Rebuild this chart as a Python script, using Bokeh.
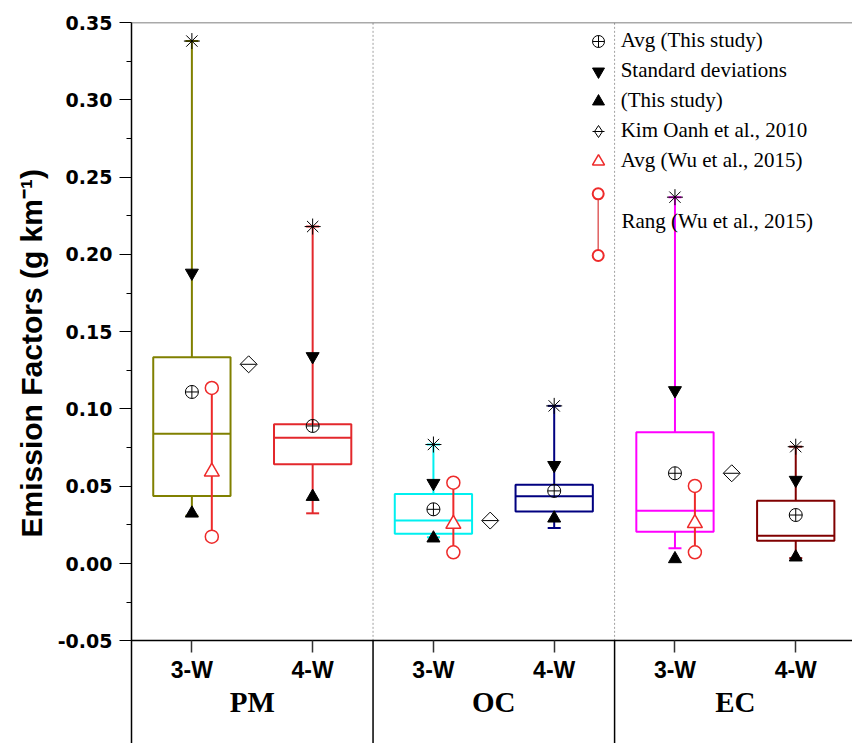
from bokeh.plotting import figure
from bokeh.models import (Range1d, FixedTicker, PrintfTickFormatter, LinearAxis,
                          Legend, LegendItem, Label, Span, Title, ColumnDataSource)
from bokeh.embed import file_html
from bokeh.resources import INLINE

# ---------------- data ----------------
groups = ["PM", "OC", "EC"]
vehicles = ["3-W", "4-W"]
box_colors = ["#808000", "#e3282c", "#00f0f0", "#000080", "#ff00ff", "#800000"]

ef_max = [0.338, 0.218, 0.077, 0.102, 0.237, 0.0756]
ef_sd_hi = [0.188, 0.134, 0.052, 0.0636, 0.112, 0.054]
ef_q3 = [0.1334, 0.0901, 0.0450, 0.0510, 0.0849, 0.0407]
ef_median = [0.0840, 0.0814, 0.0278, 0.0435, 0.0342, 0.0180]
ef_q1 = [0.0437, 0.0642, 0.0193, 0.0336, 0.0206, 0.0148]
ef_mean = [0.1110, 0.0890, 0.0351, 0.0470, 0.0584, 0.0314]
ef_sd_lo = [0.0325, 0.0433, 0.0164, 0.0293, 0.0030, 0.0041]
ef_min = [0.031, 0.0325, 0.017, 0.0230, 0.0099, 0.0035]

# literature values (3-W only, one per group)
kim_oanh_2010 = [0.1289, 0.0278, 0.0584]
wu_avg = [0.0594, 0.0256, 0.0261]
wu_hi = [0.1136, 0.0523, 0.0502]
wu_lo = [0.0174, 0.0073, 0.0073]

y_ticks = [-0.05, 0.0, 0.05, 0.10, 0.15, 0.20, 0.25, 0.30, 0.35]
y_minor = [-0.025, 0.025, 0.075, 0.125, 0.175, 0.225, 0.275, 0.325]

# ---------------- layout helpers ----------------
n = len(groups) * len(vehicles)
xs = [i + 1 for i in range(n)]
tick_labels = {x: vehicles[i % 2] for i, x in enumerate(xs)}
group_centers = [1.5 + 2 * g for g in range(len(groups))]
group_labels = {c: groups[g] for g, c in enumerate(group_centers)}
sep_x = [2.5 + 2 * g for g in range(len(groups) - 1)]
x3w = [xs[2 * g] for g in range(len(groups))]

HALF = 0.32
WU_OFF = 0.165
KIM_OFF = 0.47
Y_AXIS = -0.05
Y_BOTTOM = -0.1164

src = ColumnDataSource(dict(
    x=xs, color=box_colors,
    mx=ef_max, sdh=ef_sd_hi, q3=ef_q3, med=ef_median, q1=ef_q1,
    mean=ef_mean, sdl=ef_sd_lo, mn=ef_min,
    left=[x - HALF for x in xs], right=[x + HALF for x in xs],
))
lit = ColumnDataSource(dict(
    xk=[x + KIM_OFF for x in x3w], kim=kim_oanh_2010,
    xw=[x + WU_OFF for x in x3w], wavg=wu_avg, whi=wu_hi, wlo=wu_lo,
))

FW, FH = 721, 721
p = figure(width=852, height=743, output_backend="svg", toolbar_location=None,
           x_range=Range1d(0.5, 6.47), y_range=Range1d(Y_BOTTOM, 0.35),
           min_border_left=131, min_border_top=22, min_border_right=0,
           min_border_bottom=0)
p.extra_x_ranges = {"px": Range1d(0, FW)}
p.extra_y_ranges = {"px": Range1d(0, FH)}
p.grid.visible = False
p.outline_line_color = None
p.background_fill_color = "white"

# x axis at y=-0.05
xa = p.xaxis[0]
xa.fixed_location = Y_AXIS
xa.ticker = FixedTicker(ticks=xs, minor_ticks=[])
xa.major_label_overrides = tick_labels
xa.axis_line_color = "black"
xa.axis_line_width = 1.5
xa.major_tick_out = 12
xa.major_tick_in = 0
xa.major_tick_line_color = "#333333"
xa.major_tick_line_width = 1.5
xa.major_label_standoff = 4
xa.major_label_text_font = "Liberation Sans"
xa.major_label_text_font_style = "bold"
xa.major_label_text_font_size = "23px"
xa.major_label_text_color = "black"

ga = LinearAxis(ticker=FixedTicker(ticks=group_centers, minor_ticks=[]),
                major_label_overrides=group_labels, fixed_location=Y_AXIS,
                axis_line_color=None, major_tick_line_color=None,
                minor_tick_line_color=None, major_tick_out=0, major_tick_in=0,
                major_label_standoff=45, major_label_text_font="Liberation Serif",
                major_label_text_font_style="bold", major_label_text_font_size="29px",
                major_label_text_color="black")
p.add_layout(ga, "below")

ya = p.yaxis[0]
ya.ticker = FixedTicker(ticks=y_ticks, minor_ticks=y_minor)
ya.formatter = PrintfTickFormatter(format="%.2f")
ya.axis_line_color = "black"
ya.axis_line_width = 1.5
ya.major_tick_out = 12
ya.major_tick_in = 0
ya.minor_tick_out = 5
ya.minor_tick_in = 0
ya.major_tick_line_color = "black"
ya.minor_tick_line_color = "black"
ya.major_label_standoff = 7
ya.major_label_text_font = "DejaVu Sans"
ya.major_label_text_font_style = "bold"
ya.major_label_text_font_size = "19px"
ya.major_label_text_color = "black"

# y-axis title as a side title, anchored from the frame bottom
p.add_layout(Title(text="Emission Factors (g km\u207b\u00b9)", align="left", offset=206,
                   standoff=14, text_font="Liberation Sans", text_font_style="bold",
                   text_font_size="30px", text_color="black"), "left")

# top border and separators
p.add_layout(Span(location=0.35, dimension="width", line_color="#555555", line_width=1.5))
p.segment(x0=sep_x, y0=[Y_AXIS] * len(sep_x), x1=sep_x, y1=[0.35] * len(sep_x),
          line_color="#a0a0a0", line_width=1, line_dash="2 2")
p.segment(x0=sep_x, y0=[Y_AXIS] * len(sep_x), x1=sep_x, y1=[Y_BOTTOM] * len(sep_x),
          line_color="black", line_width=1.5)

# whiskers
p.segment(x0="x", y0="q3", x1="x", y1="mx", line_color="color", line_width=2, source=src)
p.segment(x0="x", y0="mn", x1="x", y1="q1", line_color="color", line_width=2, source=src)
p.scatter(x="x", y="mx", marker="dash", size=13, line_color="color", line_width=2, source=src)
p.scatter(x="x", y="mn", marker="dash", size=13, line_color="color", line_width=2, source=src)

# boxes and medians
p.quad(left="left", right="right", top="q3", bottom="q1", fill_color=None,
       line_color="color", line_width=2, source=src)
p.segment(x0="left", y0="med", x1="right", y1="med", line_color="color",
          line_width=2, source=src)

# Wu et al. range
p.segment(x0="xw", y0="wlo", x1="xw", y1="whi", line_color="#ee2a2a", line_width=2, source=lit)
p.scatter(x="xw", y="whi", marker="circle", size=13, line_color="#ee2a2a",
          fill_color="white", line_width=1.5, source=lit)
p.scatter(x="xw", y="wlo", marker="circle", size=13, line_color="#ee2a2a",
          fill_color="white", line_width=1.5, source=lit)
r_wu = p.scatter(x="xw", y="wavg", marker="triangle", size=15, line_color="#ee2a2a",
                 fill_color="white", line_width=1.5, source=lit)

# markers of this study
p.scatter(x="x", y="mx", marker="asterisk", size=16, line_color="black", line_width=1, source=src)
r_sdh = p.scatter(x="x", y="sdh", marker="inverted_triangle", size=13, line_color="black",
                  fill_color="black", source=src)
r_sdl = p.scatter(x="x", y="sdl", marker="triangle", size=13, line_color="black",
                  fill_color="black", source=src)
r_mean = p.scatter(x="x", y="mean", marker="circle_cross", size=13, line_color="black",
                   fill_color=None, line_width=1, source=src)

# Kim Oanh et al., 2010 (diamond glyph underneath provides the legend key)
r_kim_key = p.scatter(x="xk", y="kim", marker="diamond", size=15, line_color="black",
                      fill_color="white", line_width=1, source=lit)
p.scatter(x="xk", y="kim", marker="square", angle=0.785398, size=12,
          line_color="black", fill_color="white", line_width=1, source=lit)
r_kim2 = p.scatter(x="xk", y="kim", marker="dash", size=16, line_color="black",
                   line_width=1, source=lit)

legend = Legend(items=[
    LegendItem(label="Avg (This study)", renderers=[r_mean]),
    LegendItem(label="Standard deviations", renderers=[r_sdh]),
    LegendItem(label="(This study)", renderers=[r_sdl]),
    LegendItem(label="Kim Oanh et al., 2010", renderers=[r_kim_key, r_kim2]),
    LegendItem(label="Avg (Wu et al., 2015)", renderers=[r_wu]),
], location=(450.7, 567.3), orientation="vertical", glyph_width=32, glyph_height=30,
    label_height=30, spacing=0, padding=0, margin=0, label_standoff=7,
    border_line_alpha=0, background_fill_alpha=0,
    label_text_font="Liberation Serif", label_text_font_size="21px",
    label_text_color="black")
p.add_layout(legend)

# "Rang" key drawn in pixel space of the frame
KX = 466.7
KY = [488.0, 549.7]
p.segment(x0=[KX], y0=[KY[0]], x1=[KX], y1=[KY[1]], line_color="#e06060", line_width=1.5,
          x_range_name="px", y_range_name="px")
p.scatter(x=[KX, KX], y=KY, marker="circle", size=11, line_color="#ee2a2a",
          fill_color="white", line_width=2, x_range_name="px", y_range_name="px")
p.add_layout(Label(x=490, y=523, x_range_name="px", y_range_name="px",
                   text="Rang (Wu et al., 2015)", text_baseline="middle",
                   text_font="Liberation Serif", text_font_size="21px",
                   text_color="black"))

open("out.html", "w").write(file_html(p, INLINE))
